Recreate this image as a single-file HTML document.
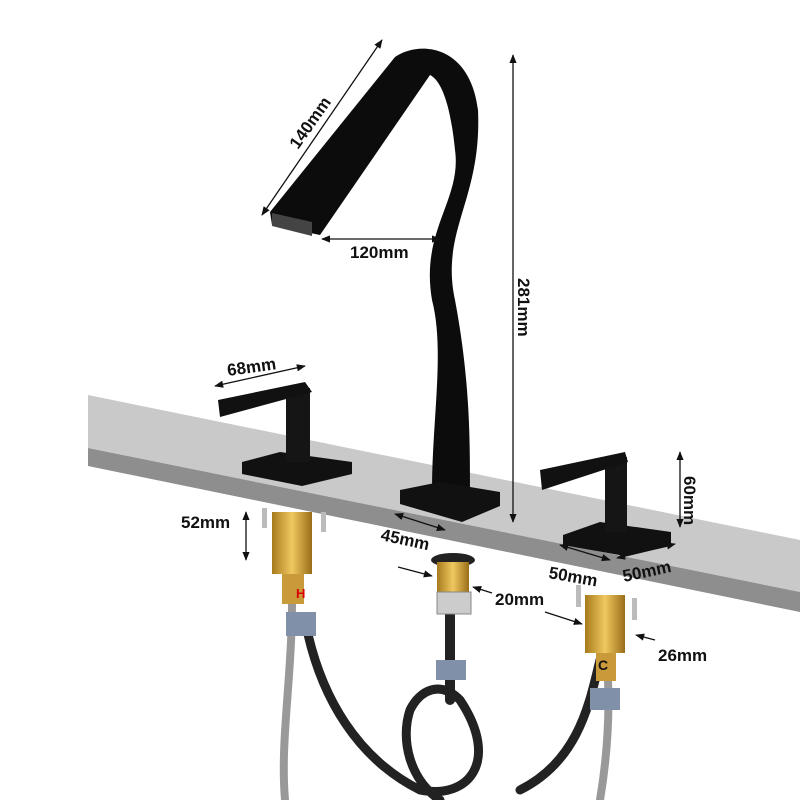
<!DOCTYPE html>
<html><head><style>
body{margin:0;background:#fff}
svg{display:block}
text{font-family:"Liberation Sans",sans-serif;font-weight:bold;font-size:17px;fill:#111}
</style></head><body>
<svg width="800" height="800" viewBox="0 0 800 800" xmlns="http://www.w3.org/2000/svg">
<defs>
<marker id="a" viewBox="0 0 10 10" refX="9" refY="5" markerWidth="7" markerHeight="7" orient="auto-start-reverse"><path d="M0,1 L10,5 L0,9 Z" fill="#111"/></marker>
<linearGradient id="br" x1="0" x2="1"><stop offset="0" stop-color="#a77a1c"/><stop offset=".5" stop-color="#f0c860"/><stop offset="1" stop-color="#9a6d18"/></linearGradient>
</defs>
<!-- slab -->
<polygon points="88,395 800,540 800,592 88,448" fill="#c9c9c9"/>
<polygon points="88,448 800,592 800,612 88,466" fill="#8e8e8e"/>
<!-- hoses -->
<g fill="none" stroke-linecap="round">
<path d="M292,600 C292,680 280,740 285,800" stroke="#999" stroke-width="8"/>
<path d="M305,620 C320,700 360,760 420,790 C470,800 500,760 460,700 C440,680 420,690 410,710 C400,740 410,780 440,800" stroke="#222" stroke-width="9"/>
<path d="M450,610 L450,700" stroke="#222" stroke-width="10"/>
<path d="M600,660 C590,700 580,760 520,790" stroke="#222" stroke-width="9"/>
<path d="M608,680 C610,730 605,770 600,800" stroke="#999" stroke-width="8"/>
</g>
<!-- valves -->
<rect x="272" y="512" width="40" height="62" fill="url(#br)"/>
<rect x="282" y="574" width="22" height="30" fill="#c99a3a"/>
<text x="296" y="598" style="fill:#d00;font-size:13px">H</text>
<rect x="286" y="612" width="30" height="24" fill="#8090a8"/>
<rect x="262" y="508" width="5" height="20" fill="#bbb"/>
<rect x="321" y="512" width="5" height="20" fill="#bbb"/>
<ellipse cx="453" cy="560" rx="22" ry="7" fill="#222"/>
<rect x="437" y="562" width="32" height="30" fill="url(#br)"/>
<rect x="437" y="592" width="34" height="22" fill="#ccc" stroke="#888"/>
<rect x="436" y="660" width="30" height="20" fill="#8090a8"/>
<rect x="585" y="595" width="40" height="58" fill="url(#br)"/>
<rect x="596" y="653" width="20" height="28" fill="#c99a3a"/>
<text x="598" y="670" style="font-size:14px">C</text>
<rect x="590" y="688" width="30" height="22" fill="#8090a8"/>
<rect x="576" y="585" width="5" height="22" fill="#bbb"/>
<rect x="632" y="598" width="5" height="22" fill="#bbb"/>
<!-- spout -->
<path d="M395,57 C420,40 470,45 478,110 C482,200 440,230 455,300 C470,380 470,440 470,490 L432,490 C432,420 445,350 432,300 C420,230 462,200 455,150 C450,100 440,80 430,75 L320,235 L272,225 L270,212 Z" fill="#0c0c0c"/>
<polygon points="272,213 312,222 312,236 272,226" fill="#444"/>
<polygon points="400,490 440,482 500,492 500,506 462,522 400,504" fill="#111"/>
<!-- left handle -->
<polygon points="242,462 280,452 352,462 352,474 302,486 242,474" fill="#111"/>
<rect x="286" y="388" width="24" height="74" fill="#151515"/>
<polygon points="218,400 305,382 312,392 220,417" fill="#111"/>
<!-- right handle -->
<polygon points="563,535 600,522 671,532 671,546 625,556 563,545" fill="#111"/>
<rect x="605" y="457" width="22" height="75" fill="#151515"/>
<polygon points="540,470 625,452 628,462 542,490" fill="#111"/>
<!-- dimensions -->
<g stroke="#111" stroke-width="1.3" fill="none">
<line x1="262" y1="215" x2="382" y2="40" marker-start="url(#a)" marker-end="url(#a)"/>
<line x1="322" y1="239" x2="440" y2="239" marker-start="url(#a)" marker-end="url(#a)"/>
<line x1="513" y1="55" x2="513" y2="522" marker-start="url(#a)" marker-end="url(#a)"/>
<line x1="215" y1="386" x2="305" y2="366" marker-start="url(#a)" marker-end="url(#a)"/>
<line x1="246" y1="512" x2="246" y2="560" marker-start="url(#a)" marker-end="url(#a)"/>
<line x1="395" y1="514" x2="445" y2="530" marker-start="url(#a)" marker-end="url(#a)"/>
<line x1="680" y1="452" x2="680" y2="527" marker-start="url(#a)" marker-end="url(#a)"/>
<line x1="560" y1="545" x2="610" y2="560" marker-start="url(#a)" marker-end="url(#a)"/>
<line x1="617" y1="558" x2="675" y2="544" marker-start="url(#a)" marker-end="url(#a)"/>
<line x1="398" y1="567" x2="432" y2="576" marker-end="url(#a)"/>
<line x1="492" y1="593" x2="473" y2="587" marker-end="url(#a)"/>
<line x1="545" y1="612" x2="582" y2="624" marker-end="url(#a)"/>
<line x1="655" y1="640" x2="636" y2="635" marker-end="url(#a)"/>
</g>
<text transform="translate(298,150) rotate(-55)">140mm</text>
<text x="350" y="258">120mm</text>
<text transform="translate(518,278) rotate(90)">281mm</text>
<text transform="translate(228,376) rotate(-8)">68mm</text>
<text x="181" y="528">52mm</text>
<text transform="translate(380,540) rotate(12)">45mm</text>
<text x="495" y="605">20mm</text>
<text transform="translate(684,476) rotate(90)">60mm</text>
<text transform="translate(548,578) rotate(10)">50mm</text>
<text transform="translate(624,582) rotate(-12)">50mm</text>
<text x="658" y="661">26mm</text>
</svg>
</body></html>
